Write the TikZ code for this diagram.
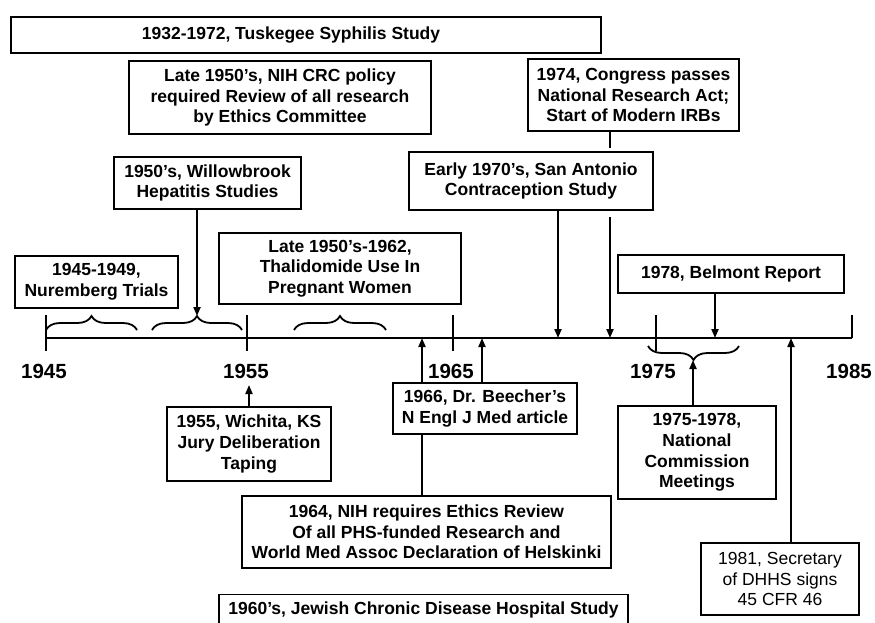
\documentclass[tikz,border=0pt]{standalone}
\usepackage{fontspec}
\setmainfont{Liberation Sans}
\usetikzlibrary{arrows.meta,decorations.pathreplacing,backgrounds}
\begin{document}
\begin{tikzpicture}[x=1pt,y=-1pt,
  box/.style={draw, line width=1.3pt, fill=white, align=center, inner sep=0pt,
    font=\fontsize{17.5}{20.6}\selectfont\bfseries},
  plainbox/.style={box, font=\fontsize{17.5}{20.6}\selectfont},
  yearlbl/.style={font=\fontsize{20.5}{24}\selectfont\bfseries, inner sep=0pt},
  conn/.style={line width=2pt},
  arr/.style={conn, -{Triangle[length=9pt,width=7pt]}},
  axisline/.style={line width=2.6pt},
  tickline/.style={line width=1.3pt},
  brc/.style={line width=1.8pt, decorate, decoration={brace, amplitude=14pt}},
]
\useasboundingbox (0,0) rectangle (875,622);
\clip (0,0) rectangle (875,622);

% boxes
\node[box, minimum width=590pt, minimum height=36pt] (tusk) at (306,35)
  {\hspace*{-30pt}1932-1972, Tuskegee Syphilis Study};
\node[box, minimum width=302pt, minimum height=73pt] (nih) at (280,97.5)
  {Late 1950’s, NIH CRC policy\\required Review of all research\\by Ethics Committee};
\node[box, minimum width=211pt, minimum height=72pt] (n74) at (633.5,95)
  {1974, Congress passes\\National Research Act;\\Start of Modern IRBs};
\node[box, minimum width=187pt, minimum height=52pt] (willow) at (207.5,183)
  {1950’s, Willowbrook\\Hepatitis Studies};
\node[box, minimum width=244pt, minimum height=58pt] (sanant) at (531,181)
  {Early 1970’s, San Antonio\\Contraception Study};
\node[box, minimum width=242pt, minimum height=71pt] (thal) at (340,268.5)
  {Late 1950’s-1962,\\Thalidomide Use In\\Pregnant Women};
\node[box, minimum width=163pt, minimum height=52pt] (nur) at (96.5,282)
  {1945-1949,\\Nuremberg Trials};
\node[box, minimum width=226pt, minimum height=38pt] (belm) at (731,274)
  {1978, Belmont Report};
\node[box, minimum width=164pt, minimum height=74pt] (wich) at (249,444)
  {1955, Wichita, KS\\Jury Deliberation\\Taping};
\node[box, minimum width=184pt, minimum height=51pt] (beech) at (485,408.5)
  {1966, Dr. Beecher’s\\N Engl J Med article};
\node[box, minimum width=369pt, minimum height=72pt] (nih64) at (426.5,532)
  {1964, NIH requires Ethics Review\\Of all PHS-funded Research and\\World Med Assoc Declaration of Helskinki};
\node[box, minimum width=409pt, minimum height=30pt, anchor=north] (jewish) at (423.5,594)
  {1960’s, Jewish Chronic Disease Hospital Study};
\node[box, minimum width=158pt, minimum height=93pt] (natc) at (697,452.5)
  {1975-1978,\\National\\Commission\\Meetings};
\node[plainbox, minimum width=158pt, minimum height=72pt] (secr) at (780,579)
  {1981, Secretary\\of DHHS signs\\45 CFR 46};

% timeline
\coordinate (t45) at (46,338);
\coordinate (t55) at (247,338);
\coordinate (t65) at (453,338);
\coordinate (t75) at (656,338);
\coordinate (t85) at (852,338);
\draw[axisline] (t45) -- (t85);
\foreach \t in {t45,t55,t65,t75}
  \draw[tickline] ([yshift=23pt]\t) -- ([yshift=-13pt]\t);
\draw[tickline] ([yshift=23pt]t85) -- (t85);

\node[yearlbl] (l45) at (44,371) {1945};
\node[yearlbl] (l55) at (246,371) {1955};
\node[yearlbl] (l65) at (451,371) {1965};
\node[yearlbl] (l75) at (653,371) {1975};
\node[yearlbl] (l85) at (849,371) {1985};

% braces
\draw[brc] (46,330) -- (137,330);
\draw[brc] (152,330) -- (242,330);
\draw[brc] (294,330) -- (386,330);
\draw[brc] (739,346) -- (648,346);
\coordinate (b2) at (197,316);
\coordinate (b4) at (693,360);

% connectors
\coordinate (a70) at (558,338);
\coordinate (a74) at (610,338);
\coordinate (g74a) at (610,148);
\coordinate (g74b) at (610,217);
\coordinate (a78) at (715,338);
\coordinate (a66) at (482,338);
\coordinate (a64) at (422,338);
\coordinate (a55) at (249,385);
\coordinate (a81) at (791,338);

\draw[arr] (willow.south -| b2) -- (b2);
\draw[arr] (sanant.south -| a70) -- (a70);
\draw[conn] (n74.south -| a74) -- (g74a);
\draw[arr] (g74b) -- (a74);
\draw[arr] (belm.south -| a78) -- (a78);
\draw[arr] (beech.north -| a66) -- (a66);
\begin{scope}[on background layer]
  \draw[arr] (nih64.north -| a64) -- (a64);
\end{scope}
\draw[arr] (wich.north -| a55) -- (a55);
\draw[arr] (natc.north -| b4) -- (b4);
\draw[arr] (secr.north -| a81) -- (a81);
\end{tikzpicture}
\end{document}
